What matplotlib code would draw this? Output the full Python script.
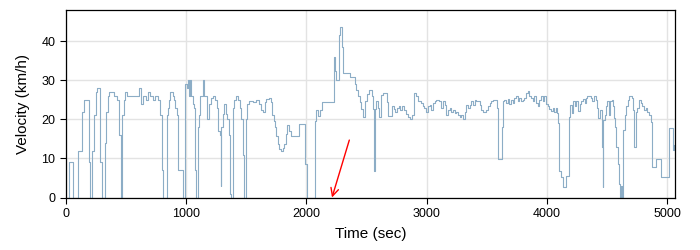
import matplotlib.pyplot as plt

plt.rcParams['font.family'] = ['Liberation Sans', 'DejaVu Sans']

# velocity profile (step changes)
tiempo = [
    0, 28, 56, 103, 131, 150, 190, 205, 222, 235, 250, 262, 286, 298,
    322, 333, 348, 360, 400, 425, 440, 455, 467, 480, 492, 505, 606, 622,
    645, 665, 680, 700, 725, 740, 770, 783, 797, 811, 839, 850, 860, 870,
    890, 900, 911, 925, 936, 972, 992, 1005, 1015, 1022, 1030, 1040, 1055,
    1068, 1075, 1083, 1097, 1105, 1117, 1140, 1144, 1153, 1172, 1194, 1206,
    1222, 1242, 1256, 1269, 1283, 1289, 1294, 1306, 1317, 1333, 1344, 1356,
    1367, 1375, 1389, 1400, 1417, 1436, 1447, 1461, 1475, 1483, 1497, 1503,
    1511, 1525, 1553, 1580, 1608, 1622, 1636, 1658, 1669, 1686, 1706, 1719,
    1733, 1742, 1750, 1761, 1775, 1789, 1803, 1817, 1828, 1836, 1856, 1869,
    1942, 1989, 2003, 2072, 2083, 2094, 2111, 2131, 2228, 2242, 2250, 2269,
    2278, 2300, 2308, 2361, 2403, 2417, 2431, 2444, 2453, 2472, 2492, 2506,
    2519, 2547, 2558, 2564, 2569, 2580, 2600, 2608, 2622, 2636, 2669, 2680,
    2711, 2728, 2742, 2756, 2770, 2783, 2800, 2814, 2828, 2842, 2860, 2881,
    2894, 2900, 2914, 2928, 2956, 2969, 2983, 2997, 3011, 3025, 3039, 3053,
    3067, 3081, 3108, 3122, 3136, 3150, 3164, 3178, 3192, 3206, 3220, 3233,
    3247, 3261, 3275, 3289, 3303, 3317, 3331, 3344, 3358, 3372, 3386, 3400,
    3414, 3442, 3456, 3469, 3497, 3511, 3525, 3539, 3553, 3589, 3594, 3628,
    3636, 3647, 3661, 3675, 3689, 3703, 3717, 3730, 3744, 3758, 3772, 3786,
    3800, 3814, 3828, 3842, 3855, 3869, 3883, 3897, 3911, 3925, 3939, 3953,
    3967, 3981, 3994, 4008, 4022, 4036, 4050, 4064, 4078, 4086, 4092, 4100,
    4119, 4133, 4156, 4183, 4197, 4211, 4219, 4236, 4247, 4264, 4275, 4285,
    4300, 4320, 4330, 4336, 4350, 4364, 4378, 4392, 4406, 4419, 4428, 4447,
    4456, 4467, 4472, 4483, 4494, 4503, 4517, 4525, 4539, 4550, 4558, 4567,
    4578, 4589, 4600, 4608, 4614, 4625, 4636, 4647, 4658, 4672, 4683, 4706,
    4717, 4725, 4739, 4753, 4767, 4781, 4795, 4808, 4822, 4836, 4850, 4864,
    4872, 4878, 4905, 4953, 5020, 5050, 5062,
]
velocidad = [
    0, 9, 0, 12, 22, 25, 9, 0, 12, 21, 27, 28, 9, 0,
    14, 22, 26, 27, 26, 25, 16, 0, 21, 25, 27, 26, 28, 24,
    26, 25, 27, 26, 25, 26, 25, 21, 7, 0, 21, 23, 25, 27,
    26, 25, 23, 21, 7, 0, 29, 28, 30, 26, 30, 26, 24,
    23, 7, 0, 18, 21, 26, 27, 30, 26, 20, 24, 25.5,
    26, 25, 23, 17, 16, 3, 18, 21.5, 24, 21.5, 20, 16,
    1, 0, 23, 25, 26, 25, 23, 20, 11, 0, 20, 22,
    24, 24.6, 24.5, 25, 24, 22.5, 21.8, 24.4, 25.2, 25.6, 24.4, 21,
    19.7, 18, 15.8, 13.7, 12.4, 12, 12.8, 13.7, 16.2, 18.6, 17.1, 15.8,
    18.8, 8.5, 0, 19.6, 22.5, 20.8, 22.5, 24.4, 35.9, 32.5, 30, 41.5,
    43.6, 38.5, 32, 30.8, 29, 27.4, 26, 24.4, 22.6, 20.5, 24.8, 26.5,
    27.5, 26, 22.6, 6.8, 22.6, 24.8, 23, 20.5, 26.3, 26.7, 24.5, 20.9,
    23.5, 22.6, 21.8, 22.9, 23.5, 22.4, 23.5, 22.4, 21.4, 20.5, 20.1, 21,
    24.4, 26.7, 25.9, 24.6, 24.1, 23.3, 22.8, 22, 23.3, 23.7, 22.4, 24.1,
    24.6, 25, 24.6, 22.8, 24.6, 23.7, 21.1, 22.4, 22.8, 22, 22.4, 21.6,
    22, 21.1, 20.5, 21.1, 20, 22, 23.7, 22.8, 23.7, 24.6, 23.7, 25,
    24.6, 23.7, 22.4, 22, 22.4, 23.3, 24.1, 24.6, 25, 23, 9.9, 18.1,
    24.6, 25, 24.3, 25.2, 24, 25, 24.3, 25.4, 25.9, 24.6, 25.4, 24.6,
    25, 25.4, 26.7, 27.2, 25.9, 25.4, 24.8, 25.9, 24.3, 23.4, 25, 25.9,
    24.6, 25.9, 24, 23.4, 22.6, 22.2, 22.8, 22, 23, 21.6, 19, 6.9,
    5.2, 2.6, 5.6, 20.7, 23.7, 21.7, 24.6, 23.4, 24.6, 22.2, 24, 24.6,
    25.2, 24.3, 25.4, 26, 25.9, 25.4, 24.8, 25.9, 25, 22.8, 20.3, 22.4,
    12.9, 2.6, 19.8, 21.1, 23.4, 24.6, 21.1, 24.6, 25, 23.3, 20.3, 18.1,
    12.9, 8.6, 3.4, 0, 3, 0, 17.2, 21.1, 23.3, 25, 25.9, 25.4,
    22.4, 12.9, 22, 22.8, 25, 24.1, 23.3, 22.4, 22.8, 21.8, 21, 19.4,
    14.7, 7.8, 9.9, 5.2, 17.7, 12.1, 13.4,
]

# red arrow (tail -> tip) in data units
flecha_inicio = (2358, 14.7)
flecha_fin = (2214, 0)

fig = plt.figure(figsize=(7, 2.5), dpi=100)
ax = fig.add_axes([0.094, 0.21, 0.870, 0.75])

ax.plot(tiempo, velocidad, drawstyle='steps-post', color='#8cadc6', lw=0.8)

ax.annotate('', xy=flecha_fin, xytext=flecha_inicio,
            arrowprops=dict(arrowstyle='->', color='red', lw=1.0,
                            shrinkA=0, shrinkB=0, mutation_scale=14),
            annotation_clip=False)

ax.set_xlim(0, 5065)
ax.set_ylim(0, 48)
ax.set_xticks([0, 1000, 2000, 3000, 4000, 5000])
ax.set_yticks([0, 10, 20, 30, 40])
ax.grid(True, color='#e3e3e3', lw=1.0)
ax.set_axisbelow(True)
ax.tick_params(direction='out', length=4, width=0.8, labelsize=9)
for s in ax.spines.values():
    s.set_linewidth(0.9)

ax.set_xlabel('Time (sec)', fontsize=11, labelpad=5)
ax.set_ylabel('Velocity (km/h)', fontsize=11, labelpad=8)

fig.savefig('out.png', dpi=100)
